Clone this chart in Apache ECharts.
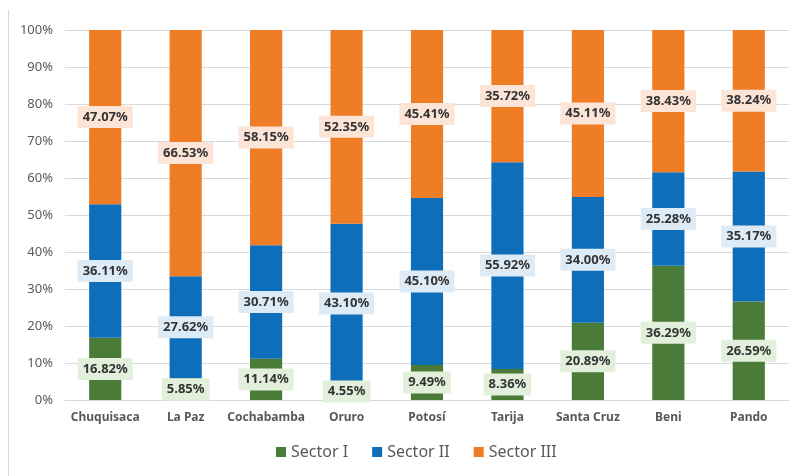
<!DOCTYPE html>
<html>
<head>
<meta charset="utf-8">
<script src="https://cdn.jsdelivr.net/npm/echarts@6/dist/echarts.min.js"></script>
<style>
  html, body { margin: 0; padding: 0; background: #fff; }
  #chart { width: 796px; height: 476px; }
</style>
</head>
<body>
<div id="chart"></div>
<script>
// datos por departamento (porcentajes)
const departamentos = ['Chuquisaca', 'La Paz', 'Cochabamba', 'Oruro', 'Potosí', 'Tarija', 'Santa Cruz', 'Beni', 'Pando'];
const sectorI = [16.82, 5.85, 11.14, 4.55, 9.49, 8.36, 20.89, 36.29, 26.59];
const sectorII = [36.11, 27.62, 30.71, 43.10, 45.10, 55.92, 34.00, 25.28, 35.17];
const sectorIII = [47.07, 66.53, 58.15, 52.35, 45.41, 35.72, 45.11, 38.43, 38.24];

const fontFam = '"Noto Sans", "Liberation Sans", sans-serif';

function serie(nombre, datos, color, fondo) {
    return {
        name: nombre,
        type: 'bar',
        stack: 'total',
        barWidth: '40%',
        data: datos,
        itemStyle: { color: color },
        label: {
            show: true,
            position: 'inside',
            formatter: p => p.value.toFixed(2) + '%',
            color: '#333333',
            fontWeight: 'bold',
            fontSize: 13,
            fontFamily: fontFam,
            backgroundColor: fondo,
            padding: [5, 5, 4, 5]
        }
    };
}

const chart = echarts.init(document.getElementById('chart'));
chart.setOption({
    animation: false,
    grid: { left: 65, right: 7, top: 30, bottom: 76 },
    graphic: [{
        type: 'line',
        shape: { x1: 8.5, y1: 10, x2: 8.5, y2: 476 },
        style: { stroke: '#d9d9d9', lineWidth: 1 }
    }],
    legend: {
        bottom: 11,
        left: 271,
        itemWidth: 10,
        itemHeight: 10,
        itemGap: 24,
        icon: 'rect',
        textStyle: { fontSize: 16, color: '#595959', fontFamily: fontFam },
        data: ['Sector I', 'Sector II', 'Sector III']
    },
    xAxis: {
        type: 'category',
        data: departamentos,
        axisLine: { lineStyle: { color: '#d9d9d9' } },
        axisTick: { show: false },
        axisLabel: { interval: 0, color: '#595959', fontWeight: 'bold', fontSize: 12, margin: 12, fontFamily: fontFam }
    },
    yAxis: {
        type: 'value',
        min: 0,
        max: 100,
        interval: 10,
        axisLine: { show: false },
        axisTick: { show: false },
        splitLine: { lineStyle: { color: '#d9d9d9' } },
        axisLabel: { formatter: '{value}%', color: '#595959', fontSize: 13, margin: 12, fontFamily: fontFam }
    },
    series: [
        serie('Sector I', sectorI, '#4b7b38', '#e2efda'),
        serie('Sector II', sectorII, '#0f6eba', '#ddebf7'),
        serie('Sector III', sectorIII, '#ee7d26', '#fce4d6')
    ]
});
</script>
</body>
</html>
